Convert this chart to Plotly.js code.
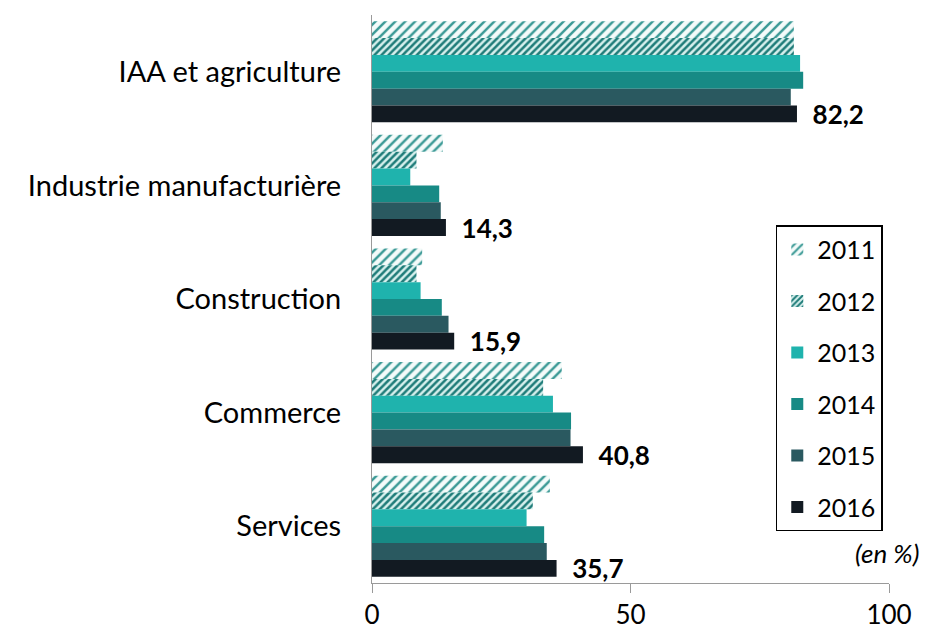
<!DOCTYPE html>
<html>
<head>
<meta charset="utf-8">
<script src="https://cdn.plot.ly/plotly-3.0.1.min.js"></script>
<style>
html,body{margin:0;padding:0;background:#fff;}
#chart{width:941px;height:632px;}
</style>
</head>
<body>
<div id="chart"></div>
<script>
const categories = ["IAA et agriculture", "Industrie manufacturière", "Construction", "Commerce", "Services"];
const years = ["2011", "2012", "2013", "2014", "2015", "2016"];
const v2011 = [81.6, 13.7, 9.7, 36.7, 34.4];
const v2012 = [81.6, 8.6, 8.6, 33.1, 31.1];
const v2013 = [82.8, 7.4, 9.4, 35.0, 29.9];
const v2014 = [83.4, 13.0, 13.5, 38.5, 33.3];
const v2015 = [81.0, 13.3, 14.8, 38.4, 33.8];
const v2016 = [82.2, 14.3, 15.9, 40.8, 35.7];
const labels2016 = ["82,2", "14,3", "15,9", "40,8", "35,7"];
const xTicks = [0, 50, 100];

const series = [v2011, v2012, v2013, v2014, v2015, v2016];
const styles = [
  {color: "#ffffff", pattern: {shape: "/", fgcolor: "#3a9995", bgcolor: "#f4fbfa", size: 7, solidity: 0.35}},
  {color: "#ffffff", pattern: {shape: "/", fgcolor: "#1f7c79", bgcolor: "#d6f0ed", size: 5, solidity: 0.5}},
  {color: "#1fb3ad"},
  {color: "#178a85"},
  {color: "#2a5960"},
  {color: "#121a22"}
];
const FONT = "Lato, 'Open Sans', sans-serif";

const traces = series.map((vals, i) => {
  const t = {
    type: "bar",
    orientation: "h",
    name: years[i],
    legendgroup: years[i],
    x: vals,
    y: categories,
    marker: Object.assign({line: {width: 0}}, styles[i]),
    hoverinfo: "x+name"
  };
  if (i === 5) {
    t.text = labels2016.map(s => "\u00a0\u00a0" + s);
    t.textposition = "outside";
    t.textfont = {family: FONT, size: 26, color: "#000", weight: "bold"};
    t.constraintext = "none";
    t.cliponaxis = false;
  }
  return t;
});

const layout = {
  width: 941,
  height: 632,
  margin: {l: 372, r: 52, t: 15, b: 49},
  paper_bgcolor: "#ffffff",
  plot_bgcolor: "#ffffff",
  barmode: "group",
  bargap: 0.11,
  bargroupgap: 0,
  font: {family: FONT, color: "#000"},
  xaxis: {
    range: [0, 100],
    tickvals: xTicks,
    ticktext: xTicks.map(String),
    showgrid: false,
    zeroline: false,
    showline: true,
    linecolor: "#9a9a9a",
    linewidth: 1,
    ticks: "outside",
    ticklen: 9,
    tickcolor: "#9a9a9a",
    tickfont: {family: FONT, size: 26, color: "#000"},
    fixedrange: true
  },
  yaxis: {
    autorange: "reversed",
    showgrid: false,
    zeroline: false,
    showline: true,
    linecolor: "#9a9a9a",
    linewidth: 1,
    ticks: "",
    ticklabelstandoff: 24,
    tickfont: {family: FONT, size: 29, color: "#000"},
    fixedrange: true
  },
  legend: {
    x: 0.781,
    y: 0.63,
    xanchor: "left",
    yanchor: "top",
    bgcolor: "#ffffff",
    bordercolor: "#000000",
    borderwidth: 1.5,
    traceorder: "grouped",
    tracegroupgap: 16,
    font: {family: FONT, size: 25, color: "#000"},
    itemwidth: 30
  },
  annotations: [{
    xref: "paper", yref: "paper",
    x: 1.062, y: 0.053,
    xanchor: "right", yanchor: "middle",
    text: "<i>(en %)</i>",
    showarrow: false,
    font: {family: FONT, size: 26, color: "#000"}
  }],
  showlegend: true
};

Plotly.newPlot("chart", traces, layout, {displayModeBar: false, staticPlot: true});
</script>
</body>
</html>
